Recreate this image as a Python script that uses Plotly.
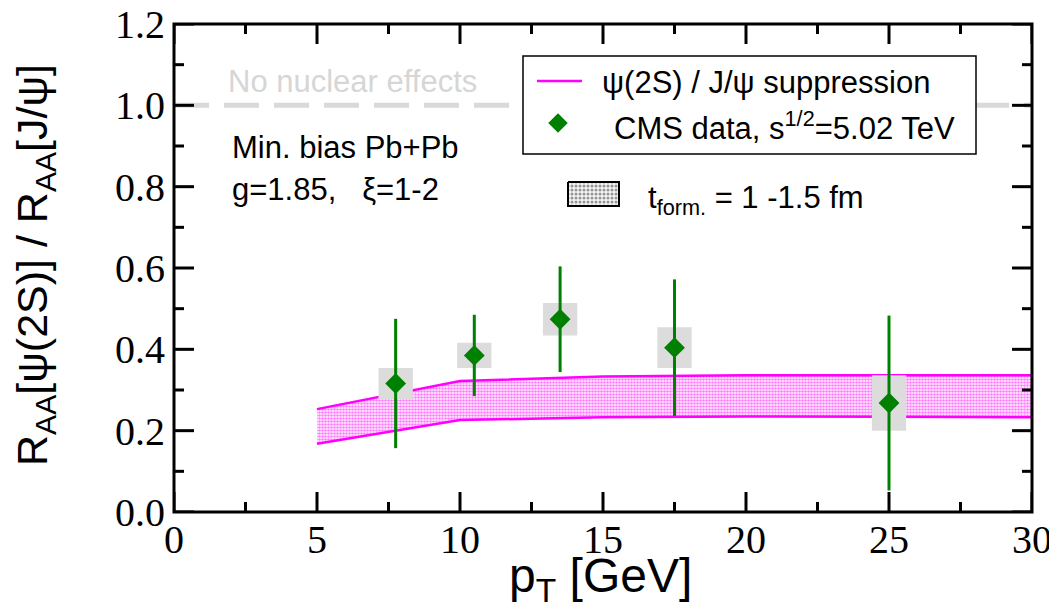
import plotly.graph_objects as go

# ---------------- data ----------------
pt_data = [7.75, 10.5, 13.5, 17.5, 25.0]
ratio_data = [0.316, 0.385, 0.474, 0.404, 0.268]
stat_err = [0.159, 0.100, 0.130, 0.168, 0.215]
sys_err = [0.038, 0.031, 0.040, 0.050, 0.068]

pt_band = [5, 10, 15, 20, 25, 30]
band_upper = [0.253, 0.322, 0.333, 0.336, 0.336, 0.336]
band_lower = [0.168, 0.226, 0.233, 0.235, 0.234, 0.233]

no_effect_level = 1.0
x_ticks = [0, 5, 10, 15, 20, 25, 30]
y_ticks = [0.0, 0.2, 0.4, 0.6, 0.8, 1.0, 1.2]
X_RANGE = [0, 30]
Y_RANGE = [0, 1.2]

# ---------------- styles ----------------
MAGENTA = "#ff00ff"
GREEN = "#008000"
BOXGRAY = "#dcdcdc"
LINEGRAY = "#d9d9d9"
box_half_width = 0.6
SANS = "Liberation Sans, Arial, sans-serif"
SERIF = "Liberation Serif, Times New Roman, serif"
MAJOR_LEN, MINOR_LEN, TICK_W = 20, 10, 3

W, H = 1057, 610
OFF = 8  # default page body margin
# plot area in page pixels
PX0, PX1 = 174, 1032
PY0, PY1 = 512, 24
L, R = PX0 - OFF, W - (PX1 - OFF)
T, B = PY1 - OFF, H - (PY0 - OFF)


# page pixel -> axis coordinates (hand-made legend decorations only)
def fx(px):
    return X_RANGE[0] + (px - PX0) / (PX1 - PX0) * (X_RANGE[1] - X_RANGE[0])


def fy(py):
    return Y_RANGE[0] + (PY0 - py) / (PY0 - PY1) * (Y_RANGE[1] - Y_RANGE[0])


fig = go.Figure()

# band
fig.add_trace(go.Scatter(x=pt_band, y=band_lower, mode="lines",
                         line=dict(color=MAGENTA, width=2.5), showlegend=False))
fig.add_trace(go.Scatter(x=pt_band, y=band_upper, mode="lines", fill="tonexty",
                         fillcolor="white",
                         fillpattern=dict(shape=".", fgcolor=MAGENTA, bgcolor="white",
                                          size=3, solidity=0.6),
                         line=dict(color=MAGENTA, width=2.5), showlegend=False))

# systematic boxes
bx, by = [], []
for x, y, s in zip(pt_data, ratio_data, sys_err):
    bx += [x - box_half_width, x + box_half_width, x + box_half_width, x - box_half_width, x - box_half_width, None]
    by += [y - s, y - s, y + s, y + s, y - s, None]
fig.add_trace(go.Scatter(x=bx, y=by, mode="lines", fill="toself", fillcolor=BOXGRAY,
                         line=dict(width=0, color=BOXGRAY), showlegend=False))

# data points
fig.add_trace(go.Scatter(x=pt_data, y=ratio_data, mode="markers",
                         marker=dict(symbol="diamond", size=16, color=GREEN),
                         error_y=dict(type="data", array=stat_err, color=GREEN,
                                      thickness=3, width=0),
                         showlegend=False))

# ---------------- hand-made legend ----------------
fig.add_trace(go.Scatter(x=[fx(558)], y=[fy(123)], mode="markers",
                         marker=dict(symbol="diamond", size=15, color=GREEN),
                         showlegend=False))
sw = [(568, 182), (619, 182), (619, 206), (568, 206), (568, 182)]
fig.add_trace(go.Scatter(x=[fx(p[0]) for p in sw], y=[fy(p[1]) for p in sw],
                         mode="lines", fill="toself", fillcolor="white",
                         fillpattern=dict(shape=".", fgcolor="#333333", bgcolor="#f4f4f4",
                                          size=4, solidity=0.45),
                         line=dict(color="black", width=2), showlegend=False))

shapes = [
    dict(type="line", xref="x", yref="y", x0=X_RANGE[0], x1=X_RANGE[1],
         y0=no_effect_level, y1=no_effect_level,
         line=dict(color=LINEGRAY, width=5, dash="35px,15px"), layer="below"),
    dict(type="rect", xref="x", yref="y", x0=fx(523), x1=fx(976), y0=fy(56), y1=fy(154),
         fillcolor="white", line=dict(color="black", width=1.5), layer="below"),
    dict(type="line", xref="x", yref="y", x0=fx(537), x1=fx(582), y0=fy(81), y1=fy(81),
         line=dict(color=MAGENTA, width=2.5), layer="above"),
]

# ---------------- frame and inward ticks on all four sides ----------------
tick_line = dict(color="black", width=TICK_W)
x_minor = [(a + b) / 2 for a, b in zip(x_ticks[:-1], x_ticks[1:])]
y_minor = [(a + b) / 2 for a, b in zip(y_ticks[:-1], y_ticks[1:])]
for vals, ln in ((x_ticks, MAJOR_LEN), (x_minor, MINOR_LEN)):
    for v in vals:
        shapes.append(dict(type="line", xref="x", yref="paper", ysizemode="pixel", yanchor=0,
                           x0=v, x1=v, y0=0, y1=ln, line=tick_line, layer="above"))
        shapes.append(dict(type="line", xref="x", yref="paper", ysizemode="pixel", yanchor=1,
                           x0=v, x1=v, y0=0, y1=-ln, line=tick_line, layer="above"))
for vals, ln in ((y_ticks, MAJOR_LEN), (y_minor, MINOR_LEN)):
    for v in vals:
        shapes.append(dict(type="line", yref="y", xref="paper", xsizemode="pixel", xanchor=0,
                           y0=v, y1=v, x0=0, x1=ln, line=tick_line, layer="above"))
        shapes.append(dict(type="line", yref="y", xref="paper", xsizemode="pixel", xanchor=1,
                           y0=v, y1=v, x0=0, x1=-ln, line=tick_line, layer="above"))
shapes.append(dict(type="rect", xref="paper", yref="paper", x0=0, x1=1, y0=0, y1=1,
                   line=dict(color="black", width=3), fillcolor="rgba(0,0,0,0)",
                   layer="above"))


def ann(text, px, py, size, color="black"):
    return dict(text=text, x=fx(px), y=fy(py), xref="x", yref="y", showarrow=False,
                xanchor="left", yanchor="middle",
                font=dict(family=SANS, size=size, color=color))


annotations = [
    ann("No nuclear effects", 226, 81, 31, color="#d6d6d6"),
    ann("Min. bias Pb+Pb", 230, 147, 31),
    ann("g=1.85,&nbsp;&nbsp; ξ=1-2", 230, 189, 31),
    ann("ψ(2S) / J/ψ suppression", 600, 82, 31),
    ann("CMS data, s<sup>1/2</sup>=5.02 TeV", 612, 126, 31),
    ann("t<sub>form.</sub> = 1 -1.5 fm", 646, 200, 31),
    dict(text="p<sub>T</sub> [GeV]", x=(600 - PX0) / (PX1 - PX0), y=(PY0 - 579) / (PY0 - PY1),
         xref="paper", yref="paper", showarrow=False, xanchor="center", yanchor="middle",
         font=dict(family=SANS, size=48, color="black")),
    dict(text="R<sub>AA</sub>[ψ(2S)] / R<sub>AA</sub>[J/ψ]", x=(35 - PX0) / (PX1 - PX0),
         y=(PY0 - 265) / (PY0 - PY1), xref="paper", yref="paper", showarrow=False,
         textangle=-90, xanchor="center", yanchor="middle",
         font=dict(family=SANS, size=43, color="black")),
]

axis_common = dict(showline=False, ticks="", showgrid=False, zeroline=False,
                   automargin=False, ticklabeloverflow="allow",
                   tickfont=dict(family=SERIF, size=40, color="black"))

fig.update_layout(
    width=W, height=H,
    margin=dict(l=L, r=R, t=T, b=B, pad=0),
    paper_bgcolor="white", plot_bgcolor="white",
    showlegend=False,
    xaxis=dict(range=X_RANGE, tickmode="array", tickvals=x_ticks,
               ticktext=[str(v) for v in x_ticks], **axis_common),
    yaxis=dict(range=Y_RANGE, tickmode="array", tickvals=y_ticks,
               ticktext=[f"{v:.1f}" for v in y_ticks], ticklabelstandoff=8,
               **axis_common),
    shapes=shapes,
    annotations=annotations,
)

fig.write_html("out.html")
